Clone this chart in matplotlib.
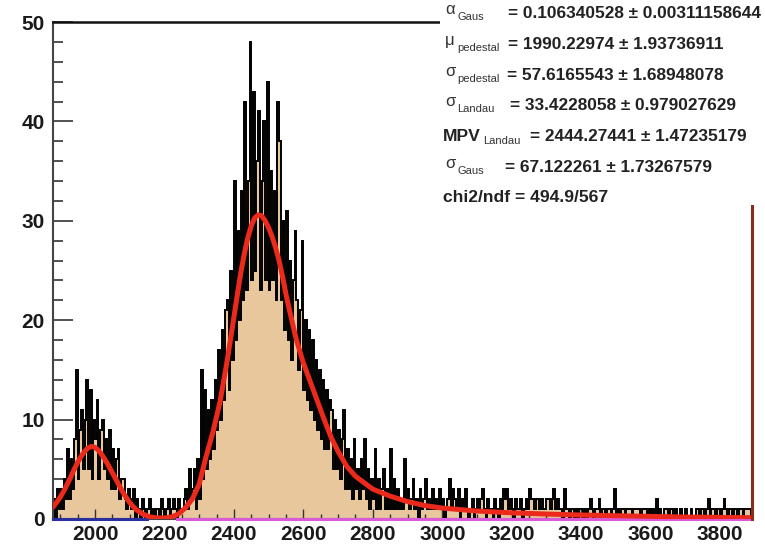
import numpy as np
import matplotlib.pyplot as plt
from matplotlib.patches import Rectangle
from matplotlib.ticker import MultipleLocator

W, H = 765, 546

# histogram: 5-unit bins starting at 1880, counts
bin_start = 1880
bin_width = 5
counts = [
    2, 0, 3, 1, 3, 1, 4, 2, 7, 2, 6, 3, 8, 15, 4, 9, 11, 5, 10, 14,         # 1880
    5, 13, 4, 10, 8, 12, 4, 9, 10, 5, 8, 4, 9, 3, 7, 3, 6, 7, 2, 4,         # 1980
    4, 2, 1, 3, 2, 1, 3, 0, 2, 1, 0, 2, 1, 0, 1, 2, 0, 1, 0, 1,             # 2080
    1, 0, 2, 1, 0, 1, 2, 0, 1, 2, 1, 0, 2, 1, 1, 2, 3, 1, 5, 2,             # 2180
    3, 5, 1, 6, 2, 15, 4, 13, 5, 11, 6, 12, 7, 14, 9, 17, 10, 19, 12, 21,   # 2280
    22, 13, 25, 16, 34, 18, 29, 20, 33, 22, 42, 23, 34, 48, 24, 43, 25, 36, 41, 23,  # 2380
    34, 40, 24, 44, 23, 35, 24, 33, 22, 42, 38, 22, 30, 19, 31, 18, 26, 16, 24, 29,  # 2480
    22, 15, 21, 28, 13, 20, 12, 19, 11, 18, 10, 16, 9, 15, 8, 14, 7, 13, 7, 12,      # 2580
    11, 5, 10, 5, 9, 4, 8, 11, 3, 7, 3, 6, 2, 8, 3, 5, 2, 6, 3, 8,          # 2680
    2, 5, 1, 4, 2, 7, 1, 4, 1, 3, 5, 1, 3, 1, 7, 1, 4, 1, 3, 1,             # 2780
    2, 1, 6, 2, 3, 1, 2, 4, 1, 2, 0, 3, 1, 2, 4, 1, 2, 1, 3, 1,             # 2880
    2, 1, 3, 1, 2, 0, 1, 2, 4, 1, 3, 2, 1, 3, 0, 2, 1, 3, 1, 0,             # 2980
    1, 2, 0, 1, 2, 1, 2, 3, 1, 0, 2, 1, 1, 0, 2, 1, 0, 2, 1, 3,             # 3080
    2, 3, 1, 2, 1, 0, 2, 1, 1, 2, 0, 1, 2, 1, 3, 2, 2, 1, 2, 2,             # 3180
    1, 2, 1, 1, 2, 2, 1, 2, 3, 1, 2, 1, 1, 0, 3, 1, 1, 0, 1, 1,             # 3280
    0, 1, 0, 1, 1, 0, 1, 0, 1, 2, 1, 0, 1, 1, 2, 0, 1, 1, 0, 1,             # 3380
    1, 0, 1, 3, 0, 1, 0, 1, 1, 0, 1, 1, 1, 0, 1, 1, 1, 1, 0, 1,             # 3480
    1, 1, 0, 1, 0, 1, 0, 2, 0, 1, 0, 0, 1, 1, 0, 1, 1, 0, 1, 0,             # 3580
    0, 1, 0, 0, 1, 0, 0, 1, 0, 0, 1, 1, 0, 1, 1, 0, 1, 2, 0, 1,             # 3680
    1, 0, 1, 1, 0, 1, 2, 1, 0, 1, 1, 0, 1, 1, 0, 1, 1, 0, 1, 1,             # 3780
    1, 1,                                                                   # 3880
]
last_bin_height = 31.5

# fit curve
fit_x = [1879, 1890, 1900, 1910, 1920, 1930, 1940, 1950, 1960, 1970, 1980, 1990,
         2000, 2010, 2020, 2030, 2040, 2050, 2060, 2070, 2080, 2090, 2100, 2110,
         2120, 2140, 2160, 2180, 2200, 2220, 2240, 2260, 2280, 2300, 2320, 2340,
         2360, 2380, 2400, 2410, 2420, 2430, 2440, 2450, 2460, 2470, 2480, 2490,
         2500, 2510, 2520, 2530, 2540, 2550, 2560, 2580, 2600, 2620, 2640, 2660,
         2680, 2700, 2725, 2750, 2800, 2850, 2900, 2950, 3000, 3100, 3200, 3300,
         3400, 3500, 3600, 3700, 3800, 3892]
fit_y = [1.2, 1.7, 2.2, 2.8, 3.5, 4.2, 5.0, 5.7, 6.3, 6.8, 7.15, 7.3,
         7.2, 6.9, 6.45, 5.9, 5.3, 4.65, 4.0, 3.35, 2.7, 2.15, 1.65, 1.25,
         0.9, 0.45, 0.2, 0.1, 0.1, 0.2, 0.5, 1.1, 2.0, 3.5, 6.3, 8.8,
         11.8, 15.8, 20.3, 22.6, 24.8, 26.7, 28.3, 29.5, 30.3, 30.6, 30.5, 30.0,
         29.3, 28.4, 27.3, 26.0, 24.4, 22.6, 21.0, 18.0, 15.7, 13.8, 11.9, 10.0,
         8.2, 6.8, 5.3, 4.3, 3.0, 2.3, 1.75, 1.35, 1.1, 0.8, 0.62, 0.5,
         0.4, 0.33, 0.26, 0.2, 0.16, 0.13]

stats = [
    ("\u03b1", "Gaus", "= 0.106340528 \u00b1 0.00311158644"),
    ("\u03bc", "pedestal", "= 1990.22974 \u00b1 1.93736911"),
    ("\u03c3", "pedestal", "= 57.6165543 \u00b1 1.68948078"),
    ("\u03c3", "Landau", "= 33.4228058 \u00b1 0.979027629"),
    ("MPV", "Landau", "= 2444.27441 \u00b1 1.47235179"),
    ("\u03c3", "Gaus", "= 67.122261 \u00b1 1.73267579"),
    ("chi2/ndf = 494.9/567", "", ""),
]

xmin, xmax = 1879, 3892
ymin, ymax = 0, 50

plt.rcParams['font.family'] = ['Liberation Sans', 'DejaVu Sans']

fig = plt.figure(figsize=(W / 100, H / 100), dpi=100)
ax = fig.add_axes([53 / W, (H - 519) / H, (752 - 53) / W, (519 - 22) / H])

edges = bin_start + bin_width * np.arange(len(counts) + 1)
ax.stairs(counts, edges, fill=True, color='#e9c79c', zorder=1)
ax.stairs(counts, edges, color='black', lw=1.4, zorder=2)

ax.plot(fit_x, fit_y, color='#ec2a1c', lw=3.6, solid_capstyle='round', zorder=4)

# components along the x axis
ax.plot([xmin, 2150], [0, 0], color='#2a2fa0', lw=2.2, zorder=3, clip_on=False)
ax.plot([2235, xmax], [0, 0], color='#d85ad8', lw=2.2, zorder=3, clip_on=False)
ax.plot([xmax, xmax], [0, last_bin_height], color='#8a2d1c', lw=2.2, zorder=5, clip_on=False)

ax.set_xlim(xmin, xmax)
ax.set_ylim(ymin, ymax)

ax.xaxis.set_major_locator(MultipleLocator(200))
ax.xaxis.set_minor_locator(MultipleLocator(50))
ax.yaxis.set_major_locator(MultipleLocator(10))
ax.yaxis.set_minor_locator(MultipleLocator(2))

ax.tick_params(axis='both', which='both', direction='in', colors='#333333')
ax.tick_params(axis='y', which='major', length=14.4, width=1.2, pad=6)
ax.tick_params(axis='y', which='minor', length=7.2, width=1.2)
ax.tick_params(axis='x', which='major', length=7, width=1.0, pad=4)
ax.tick_params(axis='x', which='minor', length=3.6, width=1.0)
ax.tick_params(axis='both', labelsize=15, labelcolor='#1a1a1a')
for lab in ax.get_xticklabels() + ax.get_yticklabels():
    lab.set_fontweight('bold')

for side in ['left', 'bottom']:
    ax.spines[side].set_color('#444444')
    ax.spines[side].set_linewidth(1.5)
ax.spines['top'].set_color('#111111')
ax.spines['top'].set_linewidth(1.8)
ax.spines['right'].set_visible(False)

# stats box (white, covers the top right corner of the frame)
fig.add_artist(Rectangle((440 / W, 1 - 205 / H), 1 - 440 / W, 205 / H,
                         transform=fig.transFigure, facecolor='white',
                         edgecolor='none', zorder=10))

def fx(px):
    return px / W

def fy(py):
    return 1 - py / H

baselines = [18, 49, 80, 110, 141, 172, 202]
eq_x = [508, 508, 507, 510, 530, 505, 0]
for (sym, sub, val), yb, ex in zip(stats, baselines, eq_x):
    if sub == "":
        fig.text(fx(443), fy(yb), sym, fontsize=12.6, fontweight='bold',
                 color='#222222', va='baseline', zorder=11)
        continue
    if sym == "MPV":
        fig.text(fx(443), fy(yb), sym, fontsize=12.6, fontweight='bold',
                 color='#222222', va='baseline', zorder=11)
        sub_x = 483
        drop = 3
    else:
        fig.text(fx(445), fy(yb - 4), sym, fontsize=12, color='#333333',
                 va='baseline', zorder=11)
        sub_x = 457
        drop = 2
    fig.text(fx(sub_x), fy(yb + drop), sub, fontsize=8, color='#333333',
             va='baseline', zorder=11)
    fig.text(fx(ex), fy(yb), val, fontsize=12.4, fontweight='bold',
             color='#222222', va='baseline', zorder=11)

fig.savefig('out.png', dpi=100)
